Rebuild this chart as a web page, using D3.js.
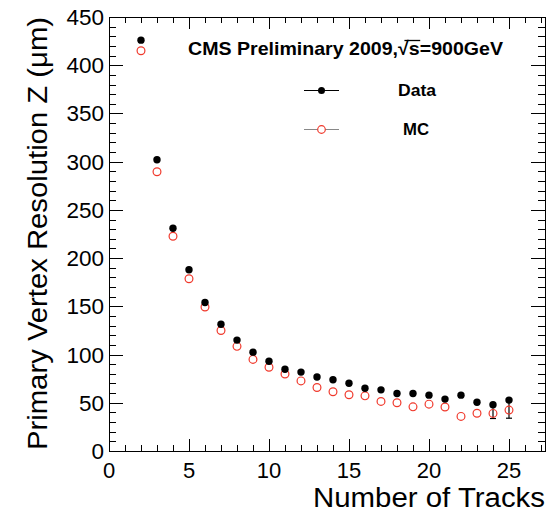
<!DOCTYPE html>
<html>
<head>
<meta charset="utf-8">
<script src="https://cdn.jsdelivr.net/npm/d3@7"></script>
<style>
  html, body { margin: 0; padding: 0; background: #fff; }
  svg { display: block; font-family: "Liberation Sans", Arial, Helvetica, sans-serif; }
</style>
</head>
<body>
<svg id="chart" width="554" height="514"></svg>
<script>
// Number of tracks in the vertex
const nTracks = [2, 3, 4, 5, 6, 7, 8, 9, 10, 11, 12, 13, 14, 15, 16, 17, 18, 19, 20, 21, 22, 23, 24, 25];
// Resolution in z (micrometres), measured data
const dataRes = [426, 302, 231, 188, 154, 131.5, 115, 102.5, 93, 84.8, 81.8, 76.8, 73.8, 70.3, 65.1, 63.4, 59.6, 59.6, 57.9, 53.8, 57.9, 50.6, 47.9, 52.8];
// Resolution in z (micrometres), simulation
const mcRes = [415, 289.6, 222.7, 178.6, 149.3, 124.9, 108.5, 95, 86.8, 79.8, 72.7, 65.9, 61.4, 58.3, 57.2, 51.4, 50, 45.8, 48.6, 45.6, 35.9, 39.2, 39, 42.4];
const mcErr = [0, 0, 0, 0, 0, 0, 0, 0, 0, 0, 0, 0, 0, 0, 0, 0, 0, 0, 0, 0, 0, 0, 5.3, 8.4];
const xTickValues = [0, 5, 10, 15, 20, 25];
const yTickValues = [0, 50, 100, 150, 200, 250, 300, 350, 400, 450];

const svg = d3.select("#chart");
const frameL = 109, frameR = 545, frameT = 17, frameB = 451;

const x = d3.scaleLinear().domain([0, 27.25]).range([frameL, frameR]);
const y = d3.scaleLinear().domain([0, 450]).range([frameB, frameT]);

const xMinor = d3.range(0, 28, 1);
const yMinor = d3.range(0, 451, 10);

// Frame
svg.append("rect")
  .attr("x", frameL + 0.5).attr("y", frameT + 0.5)
  .attr("width", frameR - frameL).attr("height", frameB - frameT)
  .attr("fill", "none").attr("stroke", "#000").attr("stroke-width", 1);

const ticks = svg.append("g").attr("stroke", "#000").attr("stroke-width", 1).attr("shape-rendering", "crispEdges");
// x ticks (bottom and top), pointing into the frame
xMinor.forEach(v => {
  const major = v % 5 === 0;
  const len = major ? 12 : 6;
  const px = Math.round(x(v)) + 0.5;
  ticks.append("line").attr("x1", px).attr("x2", px).attr("y1", frameB).attr("y2", frameB - len);
  ticks.append("line").attr("x1", px).attr("x2", px).attr("y1", frameT).attr("y2", frameT + len);
});
// y ticks (left and right)
yMinor.forEach(v => {
  const major = v % 50 === 0;
  const len = major ? 14 : 7;
  const py = Math.round(y(v)) + 0.5;
  ticks.append("line").attr("x1", frameL).attr("x2", frameL + len).attr("y1", py).attr("y2", py);
  ticks.append("line").attr("x1", frameR).attr("x2", frameR - len).attr("y1", py).attr("y2", py);
});

// Tick labels
svg.append("g").selectAll("text").data(xTickValues).join("text")
  .attr("x", d => x(d)).attr("y", 478)
  .attr("text-anchor", "middle").attr("font-size", 22).attr("fill", "#000")
  .text(d => d);
svg.append("g").selectAll("text").data(yTickValues).join("text")
  .attr("x", 104).attr("y", d => y(d) + 8)
  .attr("text-anchor", "end").attr("font-size", 22.5).attr("fill", "#000")
  .text(d => d);

// Axis titles
svg.append("text")
  .attr("x", 545).attr("y", 507)
  .attr("text-anchor", "end").attr("font-size", 27)
  .attr("textLength", 232).attr("lengthAdjust", "spacingAndGlyphs")
  .text("Number of Tracks");
svg.append("text")
  .attr("transform", "translate(47,17) rotate(-90)")
  .attr("text-anchor", "end").attr("font-size", 27)
  .attr("textLength", 433).attr("lengthAdjust", "spacingAndGlyphs")
  .text("Primary Vertex Resolution Z (\u03bcm)");

// Simulation error bars
const pts = nTracks.map((n, i) => ({ n, d: dataRes[i], m: mcRes[i], e: mcErr[i] }));
const eb = svg.append("g").attr("stroke", "#000").attr("stroke-width", 1.2);
pts.filter(p => p.e > 0).forEach(p => {
  eb.append("line").attr("x1", x(p.n)).attr("x2", x(p.n)).attr("y1", y(p.m - p.e)).attr("y2", y(p.m + p.e));
  eb.append("line").attr("x1", x(p.n) - 3).attr("x2", x(p.n) + 3).attr("y1", y(p.m - p.e)).attr("y2", y(p.m - p.e));
});

// Simulation markers: open red circles
svg.append("g").selectAll("circle").data(pts).join("circle")
  .attr("cx", p => x(p.n)).attr("cy", p => y(p.m)).attr("r", 3.9)
  .attr("fill", "none").attr("stroke", "#f0392c").attr("stroke-width", 1.2);

// Data markers: filled black circles
svg.append("g").selectAll("circle").data(pts).join("circle")
  .attr("cx", p => x(p.n)).attr("cy", p => y(p.d)).attr("r", 3.7)
  .attr("fill", "#000");

// Header text with square-root sign
const title = svg.append("text")
  .attr("x", 188).attr("y", 55)
  .attr("font-size", 19).attr("font-weight", "bold")
  .attr("textLength", 315).attr("lengthAdjust", "spacingAndGlyphs");
title.append("tspan").text("CMS Preliminary 2009,");
title.append("tspan").text("\u221a");
title.append("tspan").text("s=900GeV");
{
  const node = title.node();
  const sIdx = "CMS Preliminary 2009,\u221a".length;
  const xs0 = node.getStartPositionOfChar(sIdx).x;
  const xs1 = node.getEndPositionOfChar(sIdx).x;
  const xr = node.getStartPositionOfChar(sIdx - 1).x;
  svg.append("line")
    .attr("x1", (xr + xs0) / 2 + 1).attr("x2", xs1 + 0.5)
    .attr("y1", 40.5).attr("y2", 40.5)
    .attr("stroke", "#000").attr("stroke-width", 1.3);
}

// Legend
const legend = svg.append("g");
legend.append("line").attr("x1", 304).attr("x2", 339).attr("y1", 90.5).attr("y2", 90.5)
  .attr("stroke", "#000").attr("stroke-width", 1.2);
legend.append("circle").attr("cx", 321.5).attr("cy", 90.5).attr("r", 3.5).attr("fill", "#000");
legend.append("text").attr("x", 398).attr("y", 96)
  .attr("font-size", 16).attr("font-weight", "bold")
  .attr("textLength", 38).attr("lengthAdjust", "spacingAndGlyphs").text("Data");

legend.append("line").attr("x1", 304).attr("x2", 339).attr("y1", 129.5).attr("y2", 129.5)
  .attr("stroke", "#888").attr("stroke-width", 1.2);
legend.append("circle").attr("cx", 321.5).attr("cy", 129.5).attr("r", 3.8)
  .attr("fill", "#fff").attr("stroke", "#f0392c").attr("stroke-width", 1.2);
legend.append("text").attr("x", 403).attr("y", 135)
  .attr("font-size", 16).attr("font-weight", "bold")
  .attr("textLength", 26).attr("lengthAdjust", "spacingAndGlyphs").text("MC");
</script>
</body>
</html>
